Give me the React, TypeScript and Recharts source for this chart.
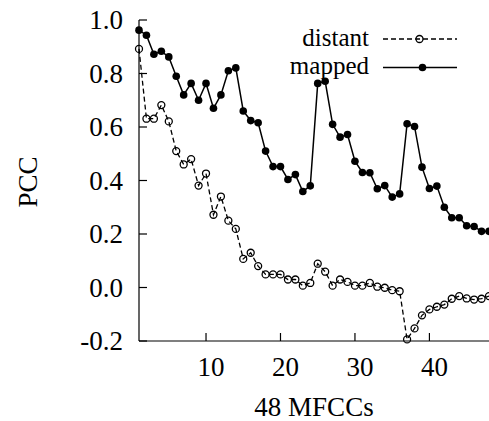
import { LineChart, Line, XAxis, YAxis, Customized, Label } from "recharts";

const FONT = "'Liberation Serif', 'Times New Roman', serif";

// MFCC coefficient index
const coefficients = [
  1, 2, 3, 4, 5, 6, 7, 8, 9, 10, 11, 12, 13, 14, 15, 16, 17, 18, 19, 20, 21, 22, 23, 24,
  25, 26, 27, 28, 29, 30, 31, 32, 33, 34, 35, 36, 37, 38, 39, 40, 41, 42, 43, 44, 45, 46, 47, 48,
];

const mapped = [
  0.962, 0.943, 0.872, 0.883, 0.862, 0.79, 0.72, 0.763, 0.7, 0.763, 0.67, 0.72,
  0.81, 0.821, 0.66, 0.624, 0.616, 0.51, 0.452, 0.452, 0.404, 0.422, 0.359, 0.38,
  0.763, 0.771, 0.61, 0.562, 0.572, 0.472, 0.43, 0.429, 0.369, 0.381, 0.338, 0.35,
  0.612, 0.602, 0.45, 0.37, 0.379, 0.3, 0.261, 0.261, 0.231, 0.228, 0.21, 0.21,
];

const distant = [
  0.892, 0.631, 0.631, 0.682, 0.621, 0.51, 0.46, 0.48, 0.381, 0.426, 0.272, 0.34,
  0.25, 0.219, 0.107, 0.13, 0.08, 0.049, 0.049, 0.049, 0.03, 0.03, 0.007, 0.017,
  0.089, 0.059, 0.007, 0.03, 0.021, 0.007, 0.007, 0.017, 0.003, -0.001, -0.01, -0.014,
  -0.194, -0.153, -0.104, -0.082, -0.072, -0.064, -0.042, -0.032, -0.041, -0.045, -0.042, -0.032,
];

const xTicks = [10, 20, 30, 40];
const yTicks = [-0.2, 0, 0.2, 0.4, 0.6, 0.8, 1.0];

const data = coefficients.map((c, i) => ({ x: c, mapped: mapped[i], distant: distant[i] }));

const TICK_LEN = 8;

function BottomTick({ x, y, payload }: any) {
  return (
    <g>
      <line x1={x} x2={x} y1={y} y2={y - TICK_LEN} stroke="#000" strokeWidth={1.2} />
      <text x={x + 5} y={y + 35} textAnchor="middle" fontFamily={FONT} fontSize={27} fill="#000">
        {payload.value}
      </text>
    </g>
  );
}

function TopTick({ x, y }: any) {
  return <line x1={x} x2={x} y1={y} y2={y + TICK_LEN} stroke="#000" strokeWidth={1.2} />;
}

function LeftTick({ x, y, payload }: any) {
  return (
    <g>
      <line x1={x} x2={x + TICK_LEN} y1={y} y2={y} stroke="#000" strokeWidth={1.2} />
      <text x={x - 16} y={y + 9} textAnchor="end" fontFamily={FONT} fontSize={27} fill="#000">
        {Number(payload.value).toFixed(1)}
      </text>
    </g>
  );
}

function RightTick({ x, y }: any) {
  return <line x1={x} x2={x - TICK_LEN} y1={y} y2={y} stroke="#000" strokeWidth={1.2} />;
}

function PccLabel() {
  return (
    <text
      x={28}
      y={182}
      transform="rotate(-90, 28, 182)"
      textAnchor="middle"
      dominantBaseline="central"
      fontFamily={FONT}
      fontSize={27}
      fill="#000"
    >
      PCC
    </text>
  );
}

function KeyBox() {
  const textProps = { fontFamily: FONT, fontSize: 25, fill: "#000", textAnchor: "end" as const };
  return (
    <g>
      <text x={369} y={46} {...textProps}>distant</text>
      <line x1={383} x2={457} y1={39} y2={39} stroke="#000" strokeWidth={1.3} strokeDasharray="5 3" />
      <circle cx={419.5} cy={39} r={3.5} fill="none" stroke="#000" strokeWidth={1.3} />
      <text x={369} y={74} {...textProps}>mapped</text>
      <line x1={383} x2={457} y1={67.5} y2={67.5} stroke="#000" strokeWidth={1.5} />
      <circle cx={422.5} cy={67.5} r={3.8} fill="#000" />
    </g>
  );
}

export default function App() {
  return (
    <div style={{ position: "absolute", left: 0, top: 0, width: 489, height: 421, background: "#fff" }}>
      <LineChart width={489} height={421} data={data} margin={{ top: 20, right: 0, left: 0, bottom: 0 }}>
        <XAxis
          xAxisId="bottom"
          dataKey="x"
          type="number"
          domain={[1, 48]}
          ticks={xTicks}
          interval={0}
          height={80}
          tickSize={0}
          tickMargin={0}
          tickLine={false}
          tick={<BottomTick />}
          axisLine={{ stroke: "#000", strokeWidth: 1.2 }}
        >
          <Label
            value="48 MFCCs"
            position="insideBottom"
            offset={5}
            style={{ fontFamily: FONT, fontSize: 27, fill: "#000" }}
          />
        </XAxis>
        <XAxis
          xAxisId="top"
          orientation="top"
          dataKey="x"
          type="number"
          domain={[1, 48]}
          ticks={xTicks}
          interval={0}
          height={0}
          tickSize={0}
          tickMargin={0}
          tickLine={false}
          tick={<TopTick />}
          axisLine={{ stroke: "#000", strokeWidth: 1.2 }}
        />
        <YAxis
          yAxisId="left"
          type="number"
          domain={[-0.2, 1.0]}
          ticks={yTicks}
          interval={0}
          width={139}
          tickSize={0}
          tickMargin={0}
          tickLine={false}
          tick={<LeftTick />}
          axisLine={{ stroke: "#000", strokeWidth: 1.2 }}
          label={<PccLabel />}
        />
        <YAxis
          yAxisId="right"
          orientation="right"
          type="number"
          domain={[-0.2, 1.0]}
          ticks={yTicks}
          interval={0}
          width={0}
          tickSize={0}
          tickMargin={0}
          tickLine={false}
          tick={<RightTick />}
          axisLine={false}
        />
        <Line
          xAxisId="bottom"
          yAxisId="left"
          type="linear"
          dataKey="distant"
          stroke="#000"
          strokeWidth={1.3}
          strokeDasharray="5 3"
          dot={{ r: 3.5, fill: "none", stroke: "#000", strokeWidth: 1.3, strokeDasharray: "none" }}
          isAnimationActive={false}
        />
        <Line
          xAxisId="bottom"
          yAxisId="left"
          type="linear"
          dataKey="mapped"
          stroke="#000"
          strokeWidth={1.5}
          dot={{ r: 3.8, fill: "#000", stroke: "#000", strokeWidth: 0 }}
          isAnimationActive={false}
        />
        <Customized component={KeyBox} />
      </LineChart>
    </div>
  );
}
